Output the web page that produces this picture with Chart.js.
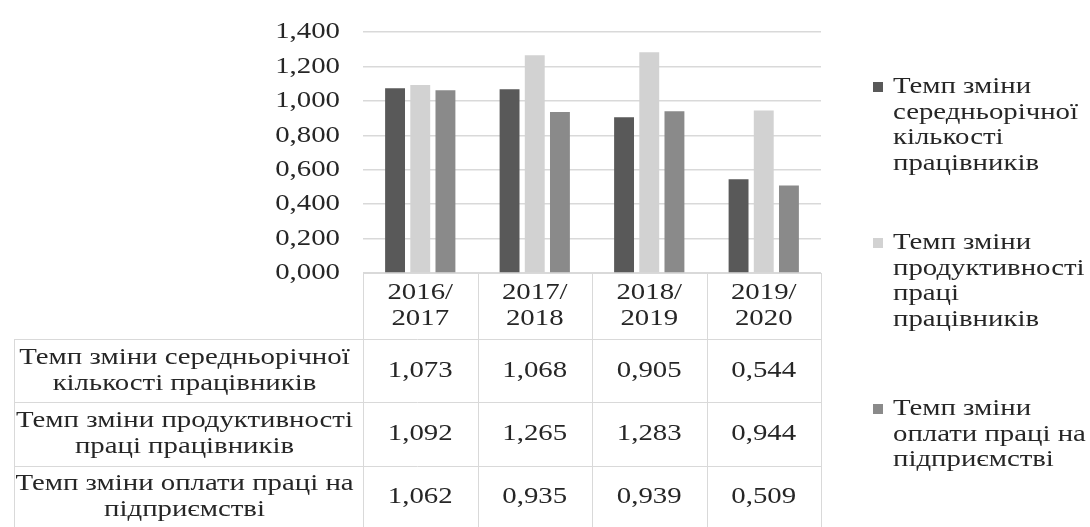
<!DOCTYPE html>
<html>
<head>
<meta charset="utf-8">
<script src="https://cdn.jsdelivr.net/npm/chart.js@4.4.0/dist/chart.umd.min.js"></script>
<style>
  html, body { margin: 0; padding: 0; background: #fff; }
  #wrap { width: 1090px; height: 527px; }
</style>
</head>
<body>
<div id="wrap"><canvas id="chart" width="1090" height="527"></canvas></div>
<script>
const categories = ['2016/2017', '2017/2018', '2018/2019', '2019/2020'];
const headcountRate = [1.073, 1.068, 0.905, 0.544];
const productivityRate = [1.092, 1.265, 1.283, 0.944];
const wageRate = [1.062, 0.935, 0.939, 0.509];
const yTicks = [0, 0.2, 0.4, 0.6, 0.8, 1.0, 1.2, 1.4];

const seriesColors = ['#595959', '#d2d2d2', '#8a8a8a'];
const tableLabels = [
  ['Темп зміни середньорічної', 'кількості працівників'],
  ['Темп зміни продуктивності', 'праці працівників'],
  ['Темп зміни оплати праці на', 'підприємстві']
];
const legendLabels = [
  ['Темп зміни', 'середньорічної', 'кількості', 'працівників'],
  ['Темп зміни', 'продуктивності', 'праці', 'працівників'],
  ['Темп зміни', 'оплати праці на', 'підприємстві']
];

const fmt = v => v.toFixed(3).replace('.', ',');
const FONT = '24px "Liberation Serif", "DejaVu Serif", serif';
const TEXT = '#262626';
const LINE = '#d9d9d9';
const STRETCH = 1.2; // the serif face is set slightly wide

function wideText(ctx, text, x, y, align) {
  ctx.save();
  ctx.translate(x, y);
  ctx.scale(STRETCH, 1);
  ctx.textAlign = align;
  ctx.fillText(text, 0, 0);
  ctx.restore();
}

// y labels, data table under the plot and the legend on the right
const tablePlugin = {
  id: 'dataTable',
  afterDraw(chart) {
    const ctx = chart.ctx;
    const xs = chart.scales.x;
    const ys = chart.scales.y;
    const area = chart.chartArea;
    const half = (xs.getPixelForValue(1) - xs.getPixelForValue(0)) / 2;
    const left = 14;
    const top = area.bottom;
    const rows = [top, 339, 402, 466, 528];
    const colEdges = categories.map((c, i) => xs.getPixelForValue(i) - half);
    colEdges.push(xs.getPixelForValue(categories.length - 1) + half);
    const series = chart.data.datasets.map(d => d.data);

    ctx.save();
    ctx.strokeStyle = LINE;
    ctx.lineWidth = 1;
    ctx.beginPath();
    // header row only spans the value columns
    ctx.moveTo(colEdges[0], top + 0.5);
    ctx.lineTo(colEdges[colEdges.length - 1], top + 0.5);
    for (let r = 1; r < rows.length; r++) {
      ctx.moveTo(left, rows[r] + 0.5);
      ctx.lineTo(colEdges[colEdges.length - 1], rows[r] + 0.5);
    }
    colEdges.forEach(x => {
      ctx.moveTo(Math.round(x) + 0.5, top);
      ctx.lineTo(Math.round(x) + 0.5, rows[rows.length - 1]);
    });
    ctx.moveTo(left + 0.5, rows[1]);
    ctx.lineTo(left + 0.5, rows[rows.length - 1]);
    ctx.stroke();

    ctx.fillStyle = TEXT;
    ctx.font = FONT;
    ctx.textBaseline = 'middle';

    yTicks.forEach(v => wideText(ctx, fmt(v), 340, ys.getPixelForValue(v), 'right'));

    const lh = 26;
    categories.forEach((c, i) => {
      const cx = xs.getPixelForValue(i);
      const cy = (rows[0] + rows[1]) / 2;
      const parts = c.split('/');
      wideText(ctx, parts[0] + '/', cx, cy - lh / 2, 'center');
      wideText(ctx, parts[1], cx, cy + lh / 2, 'center');
    });

    tableLabels.forEach((lines, r) => {
      const cy = (rows[r + 1] + rows[r + 2]) / 2;
      const lx = (left + colEdges[0]) / 2 - 4;
      wideText(ctx, lines[0], lx, cy - lh / 2, 'center');
      wideText(ctx, lines[1], lx, cy + lh / 2, 'center');
      series[r].forEach((v, i) => wideText(ctx, fmt(v), xs.getPixelForValue(i), cy, 'center'));
    });

    // legend
    const legendTop = [87, 243, 409];
    const llh = 25.5;
    legendLabels.forEach((lines, k) => {
      const y0 = legendTop[k];
      ctx.fillStyle = seriesColors[k];
      ctx.fillRect(873, y0 - 5, 10, 10);
      ctx.fillStyle = TEXT;
      lines.forEach((t, j) => wideText(ctx, t, 893, y0 + j * llh, 'left'));
    });
    ctx.restore();
  }
};

new Chart(document.getElementById('chart'), {
  type: 'bar',
  data: {
    labels: categories,
    datasets: [
      { label: legendLabels[0].join(' '), data: headcountRate, backgroundColor: seriesColors[0] },
      { label: legendLabels[1].join(' '), data: productivityRate, backgroundColor: seriesColors[1] },
      { label: legendLabels[2].join(' '), data: wageRate, backgroundColor: seriesColors[2] }
    ]
  },
  options: {
    responsive: false,
    animation: false,
    devicePixelRatio: 1,
    layout: { padding: { left: 0, right: 269, top: 32, bottom: 254 } },
    datasets: { bar: { categoryPercentage: 0.66, barPercentage: 0.79 } },
    plugins: { legend: { display: false }, tooltip: { enabled: false } },
    scales: {
      x: { display: false },
      y: {
        min: 0,
        max: 1.4,
        afterFit: s => { s.width = 363; },
        afterBuildTicks: s => { s.ticks = yTicks.map(v => ({ value: v })); },
        border: { display: false },
        grid: { color: LINE, lineWidth: 1.5, drawTicks: false },
        ticks: { display: false }
      }
    }
  },
  plugins: [tablePlugin]
});
</script>
</body>
</html>
